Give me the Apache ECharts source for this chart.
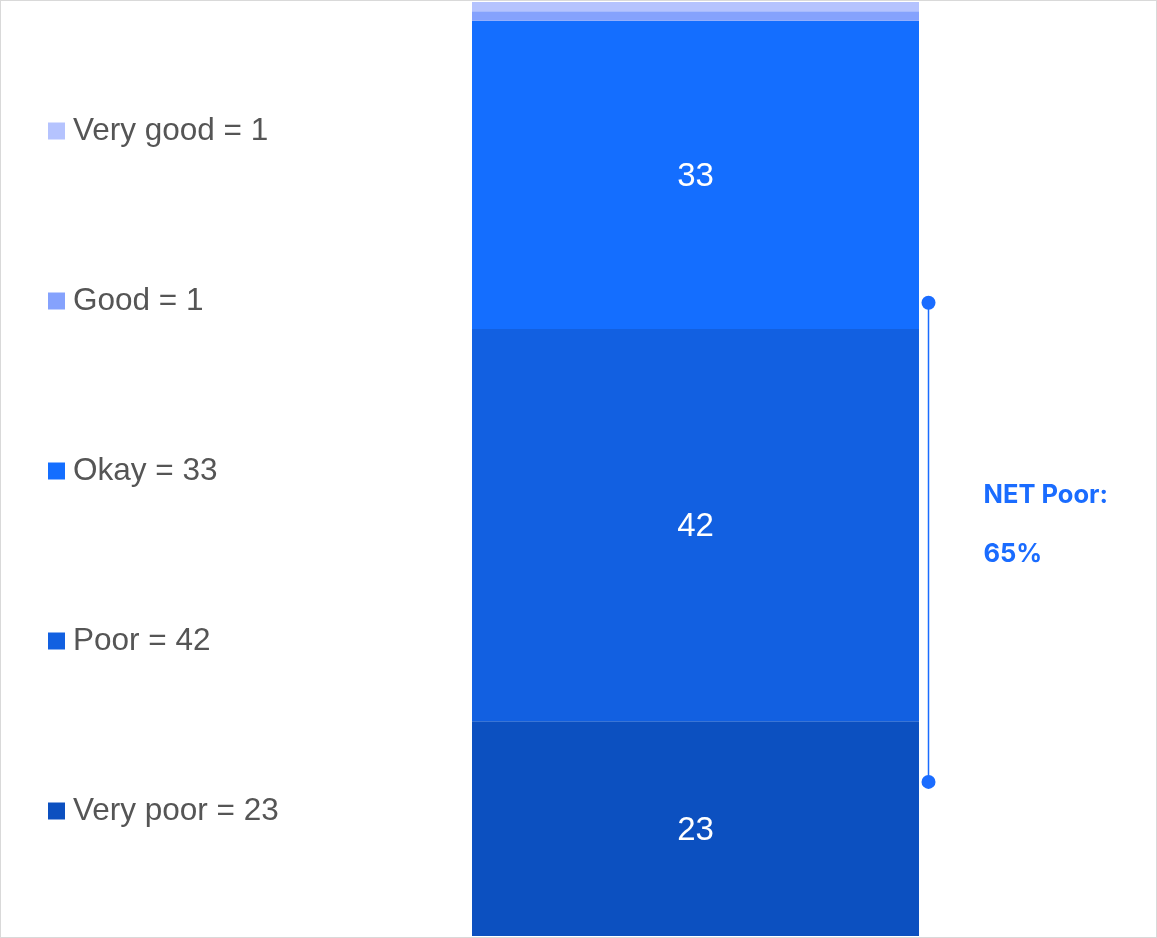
<!DOCTYPE html>
<html>
<head>
<meta charset="utf-8">
<script src="https://cdn.jsdelivr.net/npm/echarts@6/dist/echarts.min.js"></script>
<style>
html,body{margin:0;padding:0;background:#fff;}
#wrap{position:absolute;left:0;top:0;width:1155px;height:936px;border:1px solid #d9d9d9;}
#c{width:1155px;height:936px;}
</style>
</head>
<body>
<div id="wrap"><div id="c"></div></div>
<script>
// Data (bottom to top of the stack)
const categories = ['Total'];
const seriesNames = ['Very poor', 'Poor', 'Okay', 'Good', 'Very good'];
const seriesValues = [23, 42, 33, 1, 1];
const seriesColors = ['#0c50c0', '#1260e1', '#146eff', '#85a2fd', '#b5c3fe'];
const legendOrder = ['Very good', 'Good', 'Okay', 'Poor', 'Very poor'];
const netLabel = 'NET Poor:';
const netValue = '65%';
const bracketRange = [16.5, 67.8];

const chart = echarts.init(document.getElementById('c'));
const valueByName = {};
seriesNames.forEach((n, i) => valueByName[n] = seriesValues[i]);

const series = seriesNames.map((name, i) => ({
  name: name,
  type: 'bar',
  stack: 'all',
  barWidth: '100%',
  data: [seriesValues[i]],
  itemStyle: { color: seriesColors[i] },
  emphasis: { disabled: true },
  label: {
    show: seriesValues[i] >= 5,
    position: 'inside',
    color: '#ffffff',
    fontSize: 33,
    offset: [0, 2],
    fontFamily: 'Liberation Sans, Arial, sans-serif'
  }
}));

chart.setOption({
  animation: false,
  grid: { left: 471, width: 447, top: 1, bottom: 1 },
  xAxis: { type: 'category', data: categories, show: false },
  yAxis: { type: 'value', min: 0, max: 100, show: false },
  legend: {
    orient: 'vertical',
    left: 47,
    top: 112,
    padding: 0,
    data: legendOrder,
    icon: 'rect',
    itemWidth: 17,
    itemHeight: 17,
    itemGap: 134,
    selectedMode: false,
    formatter: n => n + ' = ' + valueByName[n],
    textStyle: {
      fontSize: 31.5,
      color: '#555555',
      lineHeight: 36,
      fontFamily: 'Liberation Sans, Arial, sans-serif',
      padding: [0, 0, 0, 3]
    }
  },
  series: series
});

function drawBracket() {
  const yTop = chart.convertToPixel({ yAxisIndex: 0 }, bracketRange[1]);
  const yBot = chart.convertToPixel({ yAxisIndex: 0 }, bracketRange[0]);
  const xRight = chart.convertToPixel({ xAxisIndex: 0 }, categories[0]) + 223.5;
  const x = xRight + 9.5;
  const col = '#1a6cff';
  const yMid = (yTop + yBot) / 2;
  chart.setOption({
    graphic: [
      { type: 'line', shape: { x1: x, y1: yTop, x2: x, y2: yBot }, style: { stroke: col, lineWidth: 1.5 } },
      { type: 'circle', shape: { cx: x, cy: yTop, r: 7 }, style: { fill: col } },
      { type: 'circle', shape: { cx: x, cy: yBot, r: 7 }, style: { fill: col } },
      { type: 'text', x: x + 55, y: yMid - 47, style: { text: netLabel, fill: col, font: 'bold 25.5px Inter, sans-serif', verticalAlign: 'middle' } },
      { type: 'text', x: x + 55, y: yMid + 12, style: { text: netValue, fill: col, font: 'bold 25.5px Inter, sans-serif', verticalAlign: 'middle' } }
    ]
  });
}
drawBracket();
</script>
</body>
</html>
